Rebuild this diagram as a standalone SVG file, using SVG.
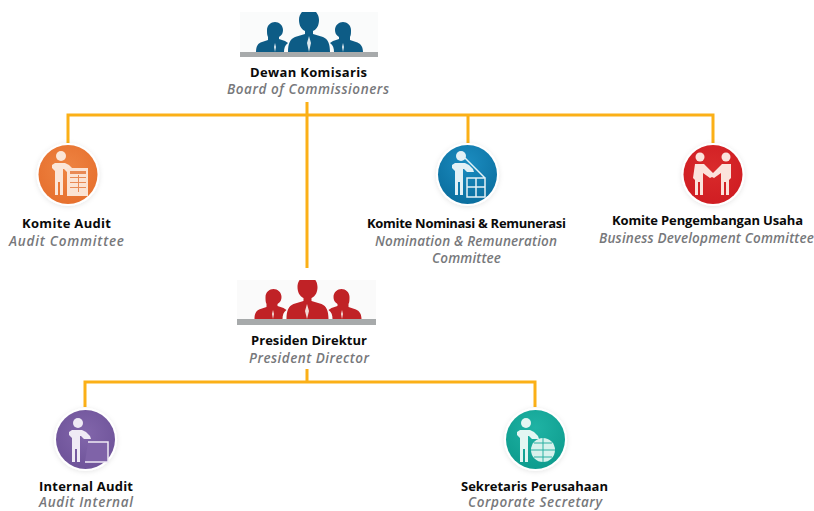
<svg xmlns="http://www.w3.org/2000/svg" width="814" height="511" viewBox="0 0 814 511">
<style>
text{font-family:"Open Sans","Liberation Sans",sans-serif;text-anchor:middle}
.t{font-size:13px;font-weight:700;fill:#0a0a0a}
.s{font-size:13.5px;font-weight:600;font-style:italic;fill:#77787b}
.c{fill:none;stroke:#fbb017;stroke-width:3}
.ring{fill:#fff;filter:url(#sh)}
.bar{fill:#a7aaab}
</style>
<defs>
<filter id="sh" x="-30%" y="-30%" width="160%" height="160%"><feDropShadow dx="0" dy="1" stdDeviation="2.500" flood-color="#000" flood-opacity=".1"/></filter>
<filter id="b" x="-10%" y="-10%" width="120%" height="120%"><feGaussianBlur stdDeviation=".7"/></filter>
<radialGradient id="go" cx=".5" cy=".4" r=".65"><stop offset="0" stop-color="#ee8442"/><stop offset="1" stop-color="#e66f2d"/></radialGradient>
<radialGradient id="gb" cx=".5" cy=".3" r=".7"><stop offset="0" stop-color="#1b8cc0"/><stop offset="1" stop-color="#0b6f9f"/></radialGradient>
<radialGradient id="gr" cx=".5" cy=".4" r=".65"><stop offset="0" stop-color="#d92b2b"/><stop offset="1" stop-color="#cf1c22"/></radialGradient>
<radialGradient id="gp" cx=".5" cy=".4" r=".65"><stop offset="0" stop-color="#8266ab"/><stop offset="1" stop-color="#6d5298"/></radialGradient>
<radialGradient id="gt" cx=".5" cy=".3" r=".7"><stop offset="0" stop-color="#1fb3a4"/><stop offset="1" stop-color="#0e9c8e"/></radialGradient>
<g id="man">
<circle cx="-7" cy="-18" r="5"/>
<path d="M-13-11h10l4 2 4 4 1 3h-7l-3-3h-1v26h-3v-13h-2v13h-3V-3l-3-3v-3z"/>
</g>
<g id="trio">
<path d="M-10-32c0-6 4-11 10-11s10 5 10 11c0 5-2 9-6 11v3l10 3c5 2 7 7 7 15h-42c0-8 2-13 7-15l10-3v-3c-4-2-6-6-6-11z"/>
<path d="M-42-22c0-5 4-8 8-8s8 3 8 8c0 3-1 5-4 7v2l6 2 3 2c-3 2-4 5-4 9h-28c0-6 2-9 6-10l6-2v-3c-1-2-1-4-1-7z"/>
<path d="M42-22c0-5-4-8-8-8s-8 3-8 8c0 3 1 5 4 7v2l-6 2-3 2c3 2 4 5 4 9h29c0-6-3-9-7-10l-6-2v-3c1-2 1-4 1-7z"/>
</g>
<clipPath id="c1"><rect x="240" y="12" width="138" height="40"/></clipPath>
<clipPath id="c2"><rect x="237" y="280" width="139" height="39"/></clipPath>
</defs>

<g id="connectors" class="c">
<path d="M68 143V115H713V143M468 115V143M307 102V268"/>
<path d="M307 369V382M85 407V382H535V407"/>
</g>

<g id="dewan-komisaris">
<rect x="240" y="12" width="138" height="40" fill="#fafbfb"/>
<g clip-path="url(#c1)"><use href="#trio" transform="translate(309 52)" fill="#0f5c86" filter="url(#b)"/>
<path d="M309 36l-2 7 2 9 2-9zM275 43l-1 4 1 5 1-5zM343 43l-1 4 1 5 1-5z" fill="#dbe8ee" filter="url(#b)"/></g>
<rect class="bar" x="240" y="52" width="138" height="5"/>
<text class="t" x="308.500" y="77" textLength="117">Dewan Komisaris</text>
<text class="s" x="308" y="94" textLength="162">Board of Commissioners</text>
</g>

<g id="komite-audit">
<circle class="ring" cx="68" cy="174.500" r="31.500"/>
<circle cx="68" cy="174.500" r="29.500" fill="url(#go)"/>
<g filter="url(#b)"><use href="#man" transform="translate(68 174)" fill="#fbe6d8"/>
<path fill="#fbe3d3" d="M67 168h21v28H67z"/><path d="M70 171h16v3H70zM70 177h16v1H70zM70 182h16v1H70zM70 187h16v1H70zM78 175h1v17h-1z" fill="#e98a55"/></g>
<text class="t" x="66.500" y="228" textLength="89">Komite Audit</text>
<text class="s" x="66.500" y="246" textLength="115">Audit Committee</text>
</g>

<g id="komite-nominasi">
<circle class="ring" cx="467.500" cy="174.500" r="31.500"/>
<circle cx="467.500" cy="174.500" r="29.500" fill="url(#gb)"/>
<g filter="url(#b)"><use href="#man" transform="translate(468 174)" fill="#e3f1f6"/>
<path d="M467 178h18v19h-18zM476 178v19M467 187h18M465 158l20 20" fill="none" stroke="#e3f1f6" stroke-width="1.500"/></g>
<text class="t" x="466.500" y="228" textLength="199">Komite Nominasi &amp; Remunerasi</text>
<text class="s" x="466" y="246" textLength="182">Nomination &amp; Remuneration</text>
<text class="s" x="466.500" y="263" textLength="69">Committee</text>
</g>

<g id="komite-pengembangan">
<circle class="ring" cx="713" cy="174.500" r="31.500"/>
<circle cx="713" cy="174.500" r="29.500" fill="url(#gr)"/>
<g filter="url(#b)" fill="#fbe3dc">
<circle cx="700" cy="157" r="4.500"/><circle cx="726" cy="157" r="4.500"/>
<path d="M695 164h9l9 9 9-9h9v14l-2 2v15h-3v-13h-2v13h-3v-22l-7 5-2-1-2 1-7-5v22h-3v-13h-2v13h-3v-15l-2-2z"/></g>
<text class="t" x="707.500" y="225" textLength="191">Komite Pengembangan Usaha</text>
<text class="s" x="706.500" y="243" textLength="215">Business Development Committee</text>
</g>

<g id="presiden-direktur">
<rect x="237" y="280" width="139" height="39" fill="#fafafa"/>
<g clip-path="url(#c2)"><use href="#trio" transform="translate(307.500 319)" fill="#c02026" filter="url(#b)"/>
<path d="M307 304l-2 7 2 8 2-8zM273 310l-1 4 1 5 1-5zM342 310l-1 4 1 5 1-5z" fill="#f3dcd8" filter="url(#b)"/></g>
<rect class="bar" x="237" y="319" width="139" height="6"/>
<text class="t" x="309" y="345" textLength="116">Presiden Direktur</text>
<text class="s" x="309" y="363" textLength="120">President Director</text>
</g>

<g id="internal-audit">
<circle class="ring" cx="85.500" cy="439.500" r="31.500"/>
<circle cx="85.500" cy="439.500" r="29.500" fill="url(#gp)"/>
<g filter="url(#b)"><use href="#man" transform="translate(85 441)" fill="#efeaf5"/>
<path d="M88 442h20v20H85" fill="#7f63a8" stroke="#efeaf5" stroke-width="1.500"/></g>
<text class="t" x="86" y="490.500" textLength="94">Internal Audit</text>
<text class="s" x="86" y="507" textLength="94">Audit Internal</text>
</g>

<g id="sekretaris-perusahaan">
<circle class="ring" cx="535.500" cy="439.500" r="31.500"/>
<circle cx="535.500" cy="439.500" r="29.500" fill="url(#gt)"/>
<g filter="url(#b)"><use href="#man" transform="translate(533 441)" fill="#e3f6f2"/>
<circle cx="543" cy="450" r="12" fill="#d8f2ed"/>
<path d="M531 450h24M543 438v24M534 443h18M534 457h18" stroke="#2bb0a2" fill="none"/></g>
<text class="t" x="534.500" y="490.500" textLength="147">Sekretaris Perusahaan</text>
<text class="s" x="535" y="507" textLength="134">Corporate Secretary</text>
</g>
</svg>
